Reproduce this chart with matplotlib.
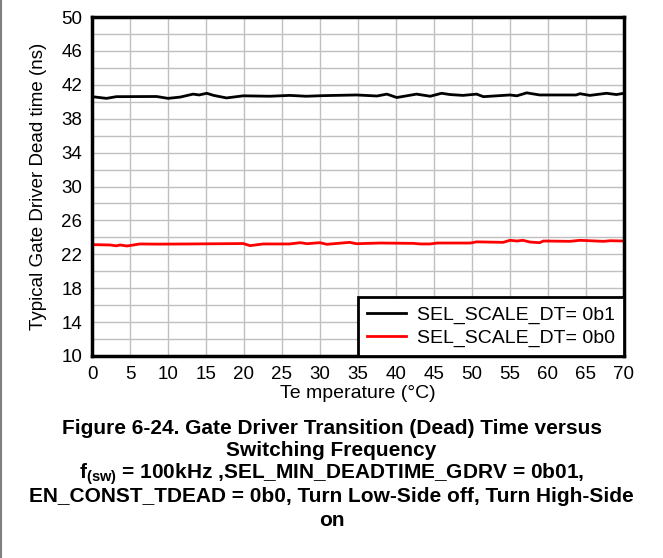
import matplotlib
matplotlib.use("Agg")
import matplotlib.pyplot as plt
from matplotlib.lines import Line2D
import numpy as np

plt.rcParams['font.family'] = ['Liberation Sans', 'DejaVu Sans']
plt.rcParams['mathtext.fontset'] = 'custom'
plt.rcParams['mathtext.rm'] = 'Liberation Sans:bold'
plt.rcParams['mathtext.default'] = 'rm'

# SEL_SCALE_DT = 0b1 (black)
temp_b1 = [0, 1.9, 3.2, 8.5, 10.0, 11.6, 13.3, 14.1, 15.1, 16.0, 17.7, 19.9, 23.4, 26.0, 28.2,
           30.4, 34.8, 37.5, 38.8, 40.1, 42.7, 44.5, 46.0, 47.1, 48.8, 50.6, 51.5, 55.0, 55.9,
           57.2, 58.9, 63.7, 64.2, 65.5, 67.7, 69.0, 70.0]
dt_b1 = [40.6, 40.4, 40.6, 40.62, 40.4, 40.55, 40.9, 40.8, 41.0, 40.75, 40.45, 40.7, 40.65, 40.75, 40.65,
         40.72, 40.8, 40.68, 40.9, 40.5, 40.9, 40.65, 41.0, 40.85, 40.75, 40.9, 40.6, 40.8, 40.7,
         41.05, 40.8, 40.8, 40.95, 40.75, 41.0, 40.85, 41.0]

# SEL_SCALE_DT = 0b0 (red)
temp_b0 = [0, 2.4, 3.2, 3.7, 4.6, 6.3, 8.5, 12.9, 17.3, 19.9, 20.8, 22.5, 26.0, 27.4, 28.3,
           30.0, 30.9, 33.9, 34.8, 37.9, 42.3, 43.2, 44.5, 45.4, 49.8, 50.6, 54.1, 55.0, 55.9,
           56.7, 57.6, 58.9, 59.4, 62.9, 64.2, 67.3, 68.2, 70.0]
dt_b0 = [23.14, 23.1, 23.0, 23.1, 22.98, 23.22, 23.2, 23.22, 23.25, 23.27, 23.02, 23.22, 23.22, 23.37, 23.25,
         23.37, 23.18, 23.41, 23.25, 23.33, 23.29, 23.22, 23.22, 23.33, 23.33, 23.47, 23.41, 23.65, 23.57,
         23.65, 23.45, 23.37, 23.57, 23.53, 23.65, 23.53, 23.6, 23.57]

labels = ["SEL_SCALE_DT= 0b1", "SEL_SCALE_DT= 0b0"]

caption = [
    "Figure 6-24. Gate Driver Transition (Dead) Time versus",
    "Switching Frequency",
    "f$_{(sw)}$ = 100kHz ,SEL_MIN_DEADTIME_GDRV = 0b01,",
    "EN_CONST_TDEAD = 0b0, Turn Low-Side off, Turn High-Side",
    "on",
]

fig = plt.figure(figsize=(6.63, 5.58), dpi=100)
ax = fig.add_axes([92 / 663, 1 - 356 / 558, 532 / 663, 339 / 558])

ax.plot(temp_b1, dt_b1, color="black", lw=2, label=labels[0])
ax.plot(temp_b0, dt_b0, color="#ff0000", lw=2, label=labels[1])

ax.set_xlim(0, 70)
ax.set_ylim(10, 50)
ax.set_xticks(np.arange(0, 71, 5))
ax.set_yticks(np.arange(10, 51, 4))
ax.set_yticks(np.arange(10, 51, 2), minor=True)
ax.grid(True, which="both", color="#c0c0c0", lw=1)
ax.set_axisbelow(True)
ax.tick_params(which="both", length=0, labelsize=13.5, pad=7)
for s in ax.spines.values():
    s.set_linewidth(2.5)

ax.set_xlabel("Te mperature (°C)", fontsize=14, labelpad=2)
ax.set_ylabel("Typical Gate Driver Dead time (ns)", fontsize=13.5, labelpad=10)

leg = ax.legend(loc="lower right", fontsize=14, frameon=True, fancybox=False,
                borderaxespad=0, handlelength=2.0, handletextpad=0.6,
                labelspacing=0.3, borderpad=0.45)
leg.get_frame().set_edgecolor("black")
leg.get_frame().set_linewidth(2)
leg.get_frame().set_alpha(1)

y0 = 1 - 428 / 558
for i, line in enumerate(caption):
    fig.text(0.5, y0 - i * 23 / 558, line, ha="center", va="center",
             fontsize=15, fontweight="bold")

fig.add_artist(Line2D([0.0015, 0.0015], [0, 1], color="#808080", lw=1.5))

fig.savefig("out.png", dpi=100)
